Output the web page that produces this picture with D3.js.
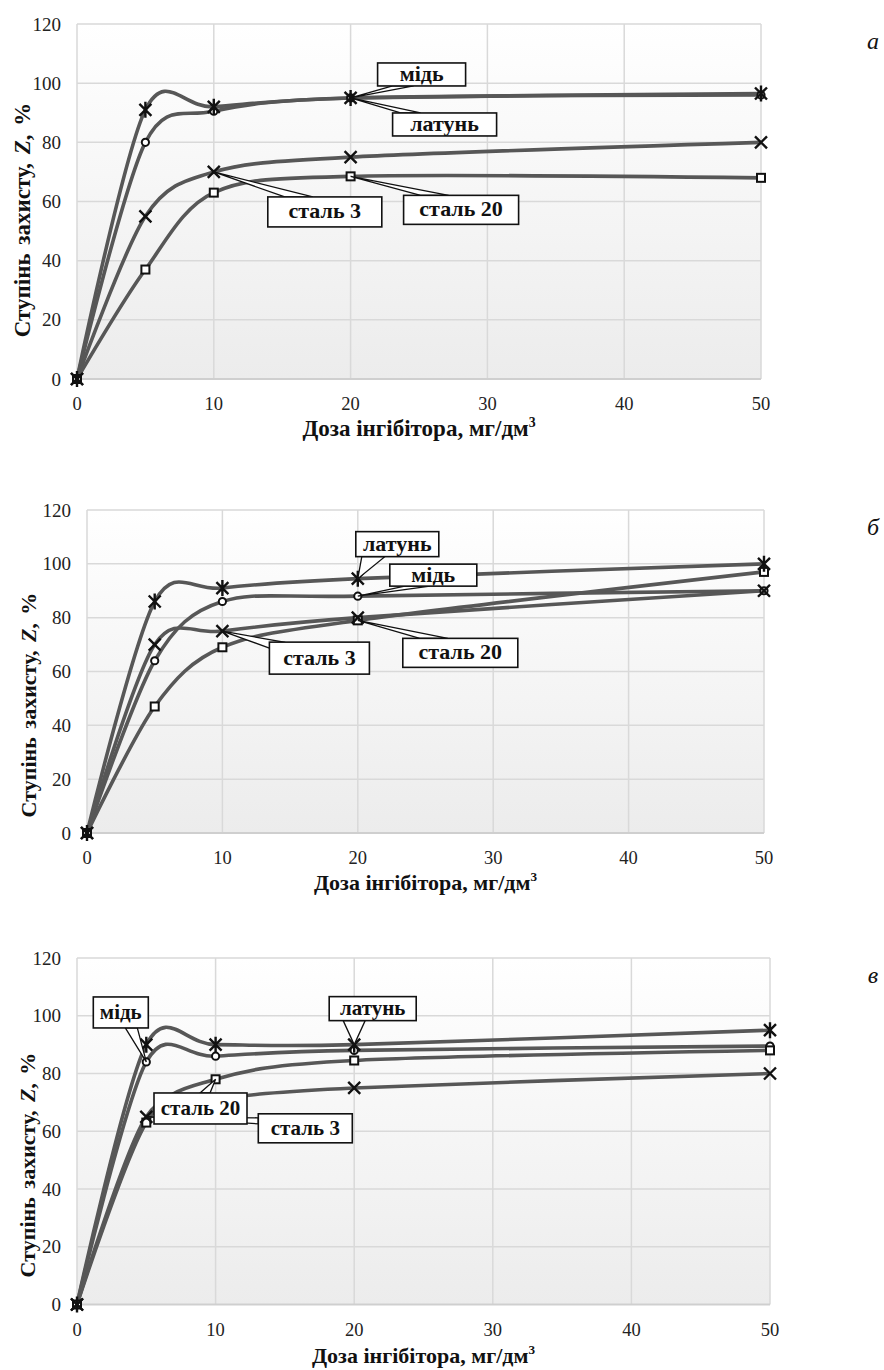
<!DOCTYPE html>
<html>
<head>
<meta charset="utf-8">
<script src="https://cdn.jsdelivr.net/npm/d3@7"></script>
<style>
  body { margin: 0; background: #fff; }
  svg { display: block; }
  svg text { font-family: "Liberation Serif", "Times New Roman", "DejaVu Serif", serif; }
</style>
</head>
<body>
<script>
var w = 884,
  h = 1370;

// doses on the x axis, mg/dm3
var doses = [0, 5, 10, 20, 50];
var xTicks = [0, 10, 20, 30, 40, 50];
var yTicks = [0, 20, 40, 60, 80, 100, 120];
var seriesNames = ['латунь', 'мідь', 'сталь 3', 'сталь 20'];
var markerTypes = ['asterisk', 'circle', 'cross', 'square'];

// panel а
var brassA = [0, 91, 92, 95, 96.5];
var copperA = [0, 80, 90.5, 95, 96];
var steel3A = [0, 55, 70, 75, 80];
var steel20A = [0, 37, 63, 68.5, 68];

// panel б
var brassB = [0, 86, 91, 94.5, 100];
var copperB = [0, 64, 86, 88, 90];
var steel3B = [0, 70, 75, 80, 90];
var steel20B = [0, 47, 69, 79, 97];

// panel в
var brassC = [0, 90, 90, 90, 95];
var copperC = [0, 84, 86, 88, 89.5];
var steel3C = [0, 65, 71, 75, 80];
var steel20C = [0, 63, 78, 84.5, 88];

var panels = [
  {
    letter: 'а', left: 77, right: 761, top: 24, bottom: 379,
    values: [brassA, copperA, steel3A, steel20A],
    xTitleY: 436, yTitleX: 30, yTitleY: 220, titleSize: 23, boxFont: 22,
    callouts: [
      { s: 1, dose: 20, dx: 27, dy: -35, bw: 88, bh: 23, base: [[15, 23], [36, 23]] },
      { s: 0, dose: 20, dx: 42, dy: 15, bw: 104, bh: 23, base: [[8, 0], [28, 0]] },
      { s: 2, dose: 10, dx: 54, dy: 25, bw: 114, bh: 30, base: [[17, 0], [45, 0]] },
      { s: 3, dose: 20, dx: 53, dy: 19, bw: 115, bh: 29, base: [[17, 0], [45, 0]] }
    ]
  },
  {
    letter: 'б', left: 87, right: 764, top: 510, bottom: 833,
    values: [brassB, copperB, steel3B, steel20B],
    xTitleY: 890, yTitleX: 36, yTitleY: 705, titleSize: 22, boxFont: 22,
    callouts: [
      { s: 0, dose: 20, dx: -2, dy: -47, bw: 83, bh: 25, base: [[6, 25], [29, 25]] },
      { s: 1, dose: 20, dx: 32, dy: -32, bw: 87, bh: 22, base: [[15, 22], [40, 22]] },
      { s: 2, dose: 10, dx: 47, dy: 11, bw: 100, bh: 32, base: [[0, 6], [14, 0]] },
      { s: 3, dose: 20, dx: 45, dy: 18, bw: 115, bh: 29, base: [[17, 0], [45, 0]] }
    ]
  },
  {
    letter: 'в', left: 77, right: 770, top: 958, bottom: 1304.5,
    values: [brassC, copperC, steel3C, steel20C],
    xTitleY: 1363, yTitleX: 35, yTitleY: 1165, titleSize: 22, boxFont: 21,
    callouts: [
      { s: 1, dose: 5, dx: -53, dy: -65, bw: 55, bh: 31, base: [[32, 31], [44, 31]] },
      { s: 0, dose: 20, dx: -25, dy: -48, bw: 87, bh: 24, base: [[14, 24], [36, 24]] },
      { s: 2, dose: 5, dx: 112, dy: -3, bw: 94, bh: 29, base: [[0, 4], [0, 10]] },
      { s: 3, dose: 10, dx: -61.6, dy: 13.7, bw: 93, bh: 31, base: [[46, 0], [56, 0]] }
    ]
  }
];

var svg = d3.select('body')
  .append('svg')
  .attr('width', w)
  .attr('height', h);

var grad = svg.append('defs').append('linearGradient')
  .attr('id', 'plotbg')
  .attr('x1', 0).attr('y1', 0).attr('x2', 0).attr('y2', 1);
grad.append('stop').attr('offset', '0%').attr('stop-color', '#ffffff');
grad.append('stop').attr('offset', '100%').attr('stop-color', '#ececec');

var drawMarker = function (g, type, px, py) {
  var ink = '#111';
  if (type === 'circle') {
    g.append('circle').attr('cx', px).attr('cy', py).attr('r', 3.6)
      .attr('fill', '#fff').attr('stroke', ink).attr('stroke-width', 2);
  } else if (type === 'square') {
    g.append('rect').attr('x', px - 4).attr('y', py - 4).attr('width', 8).attr('height', 8)
      .attr('fill', '#fff').attr('stroke', ink).attr('stroke-width', 2);
  } else {
    var d = 'M' + (px - 6) + ',' + (py - 6) + 'L' + (px + 6) + ',' + (py + 6) +
      'M' + (px - 6) + ',' + (py + 6) + 'L' + (px + 6) + ',' + (py - 6);
    if (type === 'asterisk') d += 'M' + px + ',' + (py - 8) + 'L' + px + ',' + (py + 8);
    g.append('path').attr('d', d).attr('fill', 'none')
      .attr('stroke', ink).attr('stroke-width', 2.4);
  }
};

var drawPanel = function (p) {
  var x = d3.scaleLinear().domain([0, 50]).range([p.left, p.right]);
  var y = d3.scaleLinear().domain([0, 120]).range([p.bottom, p.top]);
  var g = svg.append('g');

  g.append('rect')
    .attr('x', p.left).attr('y', p.top)
    .attr('width', p.right - p.left).attr('height', p.bottom - p.top)
    .attr('fill', 'url(#plotbg)');

  // grid
  g.append('g').selectAll('line.v').data(xTicks).enter().append('line')
    .attr('x1', function (d) { return x(d); }).attr('x2', function (d) { return x(d); })
    .attr('y1', p.top).attr('y2', p.bottom)
    .attr('stroke', '#d9d9d9').attr('stroke-width', 1.5);
  g.append('g').selectAll('line.h').data(yTicks).enter().append('line')
    .attr('x1', p.left).attr('x2', p.right)
    .attr('y1', function (d) { return y(d); }).attr('y2', function (d) { return y(d); })
    .attr('stroke', function (d) { return d === 0 ? '#cfcfcf' : '#d9d9d9'; })
    .attr('stroke-width', function (d) { return d === 0 ? 2 : 1.5; });

  // tick labels
  g.append('g').selectAll('text').data(yTicks).enter().append('text')
    .attr('x', p.left - 16).attr('y', function (d) { return y(d) + 6.5; })
    .attr('text-anchor', 'end').attr('font-size', 19).attr('fill', '#222')
    .text(function (d) { return d; });
  g.append('g').selectAll('text').data(xTicks).enter().append('text')
    .attr('x', function (d) { return x(d); }).attr('y', p.bottom + 31)
    .attr('text-anchor', 'middle').attr('font-size', 18.5).attr('fill', '#222')
    .text(function (d) { return d; });

  // axis titles
  var xt = g.append('text')
    .attr('x', (p.left + p.right) / 2).attr('y', p.xTitleY)
    .attr('text-anchor', 'middle').attr('font-size', p.titleSize)
    .attr('font-weight', 'bold').attr('fill', '#111');
  xt.append('tspan').text('Доза інгібітора, мг/дм');
  xt.append('tspan').attr('font-size', p.titleSize * 0.6).attr('dy', -9).text('3');

  var yt = g.append('text')
    .attr('transform', 'translate(' + p.yTitleX + ',' + p.yTitleY + ') rotate(-90)')
    .attr('text-anchor', 'middle').attr('font-size', p.titleSize)
    .attr('font-weight', 'bold').attr('fill', '#111')
    .attr('word-spacing', 3);
  yt.append('tspan').text('Ступінь захисту, ');
  yt.append('tspan').attr('font-style', 'italic').text('Z');
  yt.append('tspan').text(', %');

  // smoothed lines
  var line = d3.line()
    .x(function (d, i) { return x(doses[i]); })
    .y(function (d) { return y(d); })
    .curve(d3.curveCardinal.tension(0.1));

  g.append('g').selectAll('path').data(p.values).enter().append('path')
    .attr('d', line)
    .attr('fill', 'none')
    .attr('stroke', '#575757')
    .attr('stroke-width', 3.6)
    .attr('stroke-linejoin', 'round');

  var mg = g.append('g');
  [1, 3, 2, 0].forEach(function (s) {
    p.values[s].forEach(function (v, i) {
      drawMarker(mg, markerTypes[s], x(doses[i]), y(v));
    });
  });

  // callouts
  p.callouts.forEach(function (c) {
    var i = doses.indexOf(c.dose);
    var tx = x(c.dose), ty = y(p.values[c.s][i]);
    var bx = tx + c.dx, by = ty + c.dy;
    var cg = g.append('g');
    cg.append('path')
      .attr('d', 'M' + (bx + c.base[0][0]) + ',' + (by + c.base[0][1]) +
        'L' + tx + ',' + ty +
        'L' + (bx + c.base[1][0]) + ',' + (by + c.base[1][1]) + 'Z')
      .attr('fill', '#fff').attr('stroke', '#111').attr('stroke-width', 1.3)
      .attr('stroke-linejoin', 'miter');
    cg.append('rect')
      .attr('x', bx).attr('y', by).attr('width', c.bw).attr('height', c.bh)
      .attr('fill', '#fff').attr('stroke', '#111').attr('stroke-width', 1.6);
    cg.append('text')
      .attr('x', bx + c.bw / 2).attr('y', by + c.bh / 2 + 6.5)
      .attr('text-anchor', 'middle').attr('font-size', p.boxFont)
      .attr('font-weight', 'bold').attr('fill', '#111')
      .text(seriesNames[c.s]);
  });

  svg.append('text')
    .attr('x', 873).attr('y', p.top + 25)
    .attr('text-anchor', 'middle').attr('font-size', 24)
    .attr('font-style', 'italic').attr('fill', '#111')
    .text(p.letter);
};

panels.forEach(drawPanel);
</script>
</body>
</html>
